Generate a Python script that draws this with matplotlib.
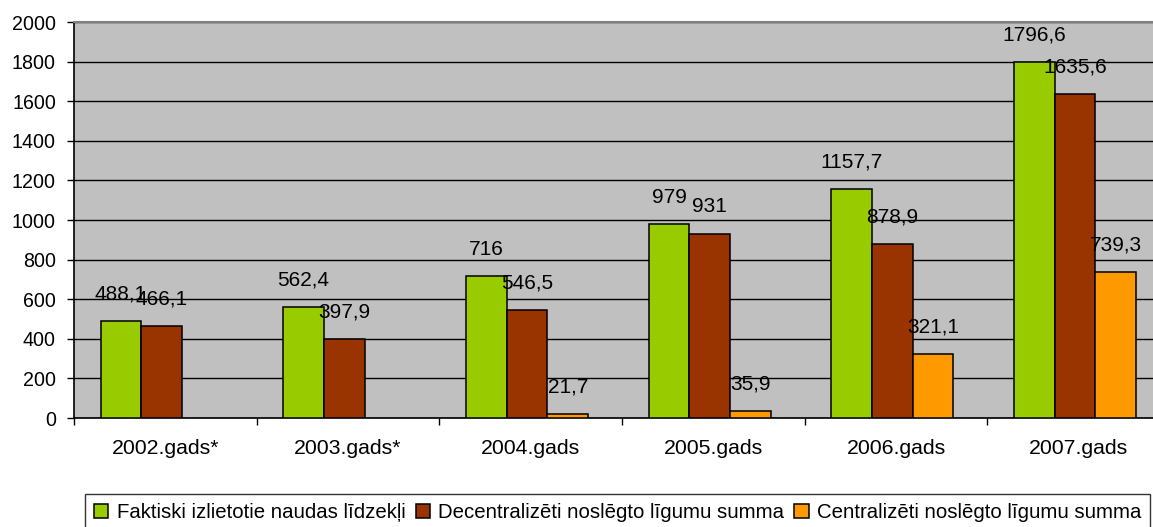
import numpy as np
import matplotlib
matplotlib.use('Agg')
from matplotlib import pyplot as plt

plt.rcParams['font.family'] = ['Liberation Sans', 'DejaVu Sans']

years     = ['2002.gads*', '2003.gads*', '2004.gads', '2005.gads', '2006.gads', '2007.gads']
faktiski  = [488.1, 562.4, 716, 979, 1157.7, 1796.6]
decentr   = [466.1, 397.9, 546.5, 931, 878.9, 1635.6]
centr     = [np.nan, np.nan, 21.7, 35.9, 321.1, 739.3]

names  = ['Faktiski izlietotie naudas līdzekļi',
          'Decentralizēti noslēgto līgumu summa',
          'Centralizēti noslēgto līgumu summa']
colors = ['#99CC00', '#993300', '#FF9900']

fig = plt.figure(figsize=(11.53, 5.27), dpi=100)
# plot area runs a bit past the right edge of the picture, as in the original
ax = fig.add_axes([74/1153, 109/527, 1096/1153, 396/527])
ax.set_facecolor('#C0C0C0')

x = np.arange(len(years))
w = 0.223
for i, (vals, col, name) in enumerate(zip([faktiski, decentr, centr], colors, names)):
  pos = x + (i - 1) * w - 0.02
  ax.bar(pos, vals, width=w, color=col, edgecolor='black', linewidth=1.1,
         label=name, zorder=3)
  for p, v in zip(pos, vals):
    if np.isnan(v):
      continue
    txt = ('%g' % v).replace('.', ',')
    ax.annotate(txt, (p, v), xytext=(0, 19.5), textcoords='offset points',
                ha='center', va='center', fontsize=15, zorder=4)

ax.set_xlim(-0.5, len(years) - 0.5)
ax.set_ylim(0, 2000)
ax.set_yticks(range(0, 2001, 200))
ax.yaxis.grid(True, color='black', linewidth=1.0, zorder=1)
ax.set_axisbelow(True)

ax.set_xticks(x)
ax.set_xticklabels(years, fontsize=15.3)
ax.set_xticks(np.arange(-0.5, len(years)), minor=True)
ax.tick_params(axis='x', which='major', length=0, pad=15)
ax.tick_params(axis='x', which='minor', length=5, width=1, direction='out')
ax.tick_params(axis='y', length=5, width=1, pad=8, labelsize=14.1)

ax.spines['top'].set_color('#808080')
ax.spines['top'].set_linewidth(1.5)
ax.spines['right'].set_visible(False)
ax.spines['left'].set_linewidth(1.2)
ax.spines['bottom'].set_linewidth(1.2)

leg = fig.legend(loc='upper left', bbox_to_anchor=(85/1153, 1 - 494/527),
                 ncol=3, fontsize=14.7, frameon=True, fancybox=False,
                 handlelength=0.7, handleheight=0.7, handletextpad=0.4,
                 columnspacing=0.5, borderpad=0.45, borderaxespad=0)
leg.get_frame().set_edgecolor('black')
leg.get_frame().set_linewidth(1.0)

fig.savefig('out.png', dpi=100)
